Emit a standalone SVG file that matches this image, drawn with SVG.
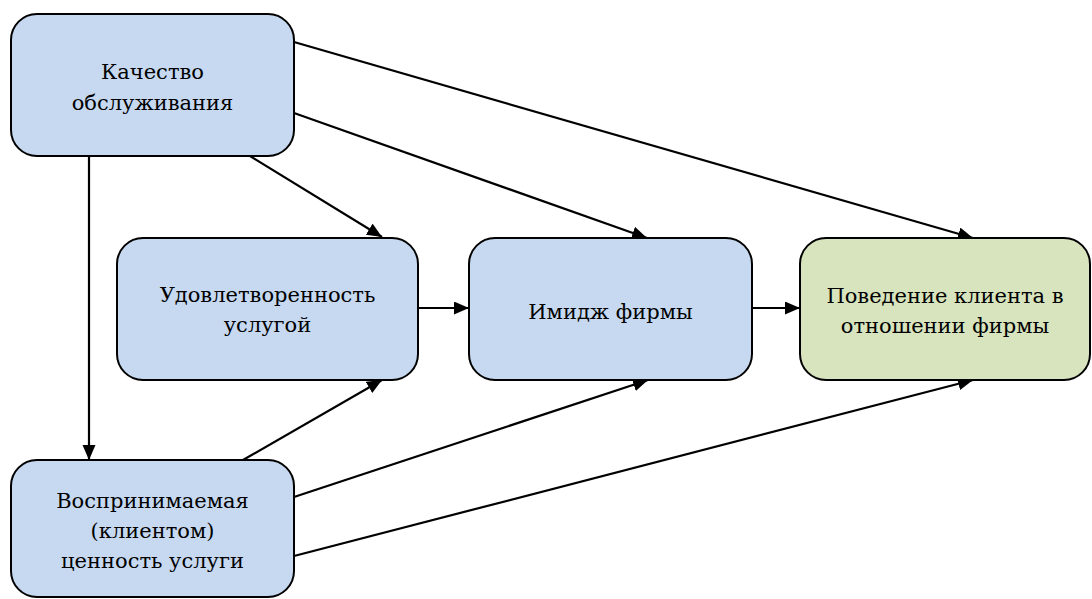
<svg xmlns="http://www.w3.org/2000/svg" width="1092" height="599" viewBox="0 0 1092 599">
<defs>
<style>
.box{stroke:#000;stroke-width:2}
.blue{fill:#c6d9f1}
.green{fill:#d7e4bd}
.t{font-family:'DejaVu Serif','Liberation Serif',serif;font-size:21px;fill:#000;text-anchor:middle}
.c{stroke:#000;stroke-width:2.2;fill:none;marker-end:url(#ah)}
</style>
<marker id="ah" markerUnits="userSpaceOnUse" markerWidth="16" markerHeight="14" refX="15" refY="6.5" orient="auto">
<path d="M0,0 L15,6.5 L0,13 z" fill="#000"/>
</marker>
</defs>
<rect width="1092" height="599" fill="#fff"/>
<g id="connectors">
<line class="c" x1="89" y1="156" x2="89" y2="460"/>
<line class="c" x1="250" y1="156" x2="382" y2="237"/>
<line class="c" x1="294" y1="113" x2="647" y2="238"/>
<line class="c" x1="294" y1="42" x2="973" y2="238"/>
<line class="c" x1="418" y1="308" x2="469" y2="308"/>
<line class="c" x1="752" y1="308" x2="800" y2="308"/>
<line class="c" x1="243" y1="460" x2="382" y2="380"/>
<line class="c" x1="294" y1="497" x2="648" y2="380"/>
<line class="c" x1="294" y1="556" x2="973" y2="380"/>
</g>
<g id="node-quality">
<rect class="box blue" x="11" y="14" width="283" height="142" rx="26"/>
<text class="t" x="152.5" y="79">Качество</text>
<text class="t" x="152.5" y="110">обслуживания</text>
</g>
<g id="node-satisfaction">
<rect class="box blue" x="117" y="238" width="301" height="142" rx="26"/>
<text class="t" x="267.5" y="302">Удовлетворенность</text>
<text class="t" x="267.5" y="332">услугой</text>
</g>
<g id="node-image">
<rect class="box blue" x="469" y="238" width="283" height="142" rx="26"/>
<text class="t" x="610.5" y="319">Имидж фирмы</text>
</g>
<g id="node-behavior">
<rect class="box green" x="800" y="238" width="290" height="142" rx="26"/>
<text class="t" x="945" y="303">Поведение клиента в</text>
<text class="t" x="945" y="333">отношении фирмы</text>
</g>
<g id="node-value">
<rect class="box blue" x="11" y="460" width="283" height="137" rx="26"/>
<text class="t" x="152.5" y="508">Воспринимаемая</text>
<text class="t" x="152.5" y="538">(клиентом)</text>
<text class="t" x="152.5" y="568">ценность услуги</text>
</g>
</svg>
